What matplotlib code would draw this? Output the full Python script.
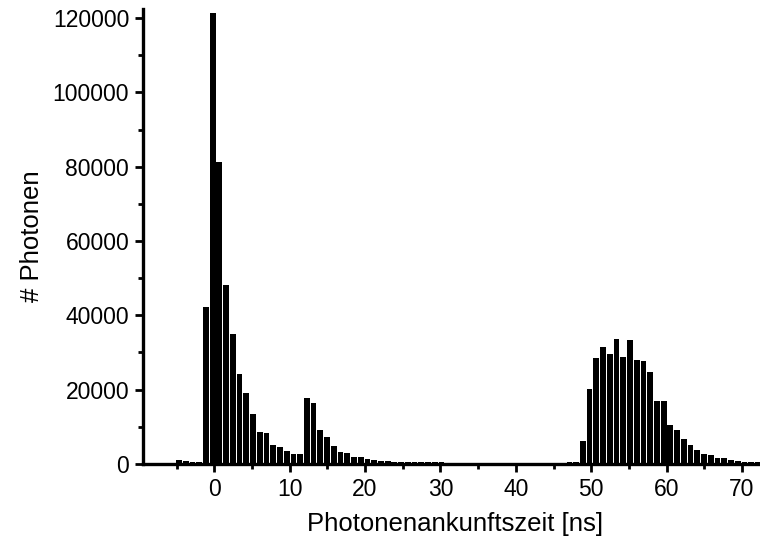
import numpy as np
import matplotlib
matplotlib.use("Agg")
import matplotlib.pyplot as plt
from matplotlib.ticker import MultipleLocator

plt.rcParams['font.family'] = ['Liberation Sans', 'DejaVu Sans']

# histogram bins (ns)
bin_first_center = -9.15
bin_width = 0.893

# photon counts per bin
counts = [
    0, 0, 0, 0, 0, 1100, 900, 600, 600, 42300,            # 0-9
    121300, 81300, 48240, 35060, 24100, 19000, 13530, 8500, 8230, 5100,   # 10-19
    4650, 3580, 2690, 2690, 17840, 16300, 9150, 7350, 4920, 3300,          # 20-29
    2860, 1960, 1780, 1300, 980, 900, 700, 650, 600, 550,                  # 30-39
    500, 480, 450, 430, 420, 400, 380, 380, 360, 350,                      # 40-49
    340, 330, 330, 320, 320, 310, 300, 300, 300, 300,                      # 50-59
    300, 300, 300, 450, 600, 6270, 20260, 28500, 31560, 29680,             # 60-69
    33710, 28780, 33440, 28060, 27700, 24740, 17030, 17030, 10570, 9230,   # 70-79
    6810, 5190, 3850, 2690, 2330, 1480, 1480, 1070, 700, 650,              # 80-89
    600, 550,                                                              # 90-91
]

x_label = "Photonenankunftszeit [ns]"
y_label = "# Photonen"

centers = bin_first_center + bin_width * np.arange(len(counts))

fig = plt.figure(figsize=(7.6, 5.46), dpi=100)
ax = fig.add_axes([0.1882, 0.1502, 0.8218, 0.8338])

ax.bar(centers, counts, width=bin_width * 0.86, color='black', linewidth=0)

ax.set_xlim(-9.45, 73.4)
ax.set_ylim(0, 122500)

for s in ['top', 'right']:
    ax.spines[s].set_visible(False)
for s in ['left', 'bottom']:
    ax.spines[s].set_linewidth(2.4)

ax.xaxis.set_major_locator(MultipleLocator(10))
ax.xaxis.set_minor_locator(MultipleLocator(5))
ax.yaxis.set_major_locator(MultipleLocator(20000))
ax.yaxis.set_minor_locator(MultipleLocator(10000))

ax.tick_params(which='major', direction='out', length=6, width=2, labelsize=16.5, pad=4)
ax.tick_params(which='minor', direction='out', length=3.5, width=2)

ax.set_xlabel(x_label, fontsize=18.5, labelpad=8)
ax.set_ylabel(y_label, fontsize=18.5, labelpad=6)

fig.savefig("out.png", dpi=100)
